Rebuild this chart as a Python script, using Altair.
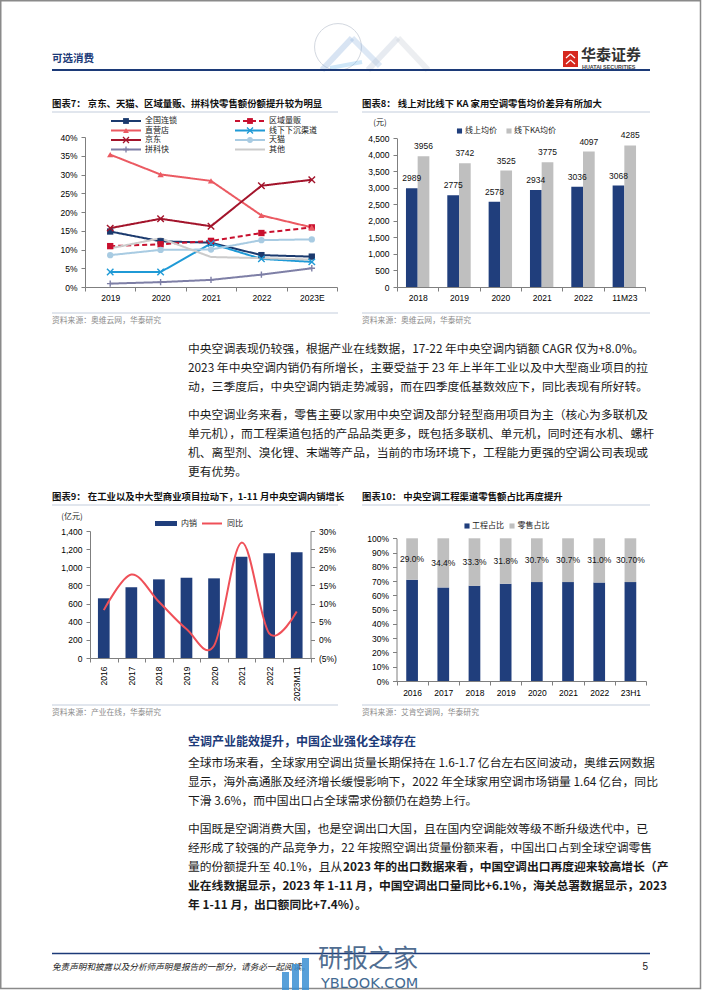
import altair as alt
import pandas as pd

W, H = 702, 991
FONT_CN = "Noto Sans CJK SC"
FONT_NUM = "Liberation Sans"
NAVY = "#1C3A78"
BAR_NAVY = "#203E7C"
BAR_GRAY = "#BFBFBF"
AX = "#7F7F7F"
RULE_LIGHT = "#C3CDDC"
SRC_GRAY = "#8C8C8C"
TEXT = "#1A1A1A"
RED_LINE = "#EF5058"

# ---------------- data ----------------
# chart 7
years7 = ["2019", "2020", "2021", "2022", "2023E"]
names7 = ["全国连锁", "区域量贩", "直营店", "线下下沉渠道", "京东", "天猫", "拼科快", "其他"]
quanguo7 = [14.8, 12.2, 11.8, 8.5, 8.1]
quyu7 = [10.9, 11.4, 12.3, 14.4, 15.9]
zhiying7 = [35.3, 30.0, 28.3, 19.1, 15.9]
xiachen7 = [4.0, 4.0, 11.6, 7.5, 6.7]
jd7 = [15.7, 18.2, 16.2, 27.0, 28.6]
tmall7 = [8.5, 9.9, 10.0, 12.5, 12.7]
pdd7 = [0.9, 1.3, 1.9, 3.3, 5.0]
other7 = [10.3, 13.0, 8.0, 7.7, 7.3]
series7 = [quanguo7, quyu7, zhiying7, xiachen7, jd7, tmall7, pdd7, other7]
colors7 = ["#1B3A6E", "#C8102E", "#EB5A62", "#1F9AD6", "#A3142B", "#A8CBE2", "#7E7FA6", "#CBCBCB"]
dashes7 = [[1, 0], [5, 3], [1, 0], [1, 0], [1, 0], [1, 0], [1, 0], [1, 0]]
ticks7 = [0, 0.05, 0.10, 0.15, 0.20, 0.25, 0.30, 0.35, 0.40]
XPATH = "M-1,-1L1,1M-1,1L1,-1"
PLUS = "M-1,0L1,0M0,-1L0,1"
filled7 = ["全国连锁", "区域量贩", "直营店", "天猫"]
filled_shapes7 = ["square", "square", "triangle-up", "circle"]
stroked7 = ["线下下沉渠道", "京东", "拼科快"]
stroked_shapes7 = [XPATH, XPATH, PLUS]

# chart 8
cats8 = ["2018", "2019", "2020", "2021", "2022", "11M23"]
online8 = [2989, 2775, 2578, 2934, 3036, 3068]
offline8 = [3956, 3742, 3525, 3775, 4097, 4285]
ticks8 = [0, 500, 1000, 1500, 2000, 2500, 3000, 3500, 4000, 4500]

# chart 9
cats9 = ["2016", "2017", "2018", "2019", "2020", "2021", "2022", "2023M11"]
sales9 = [658, 779, 867, 885, 878, 1116, 1154, 1165]
yoy9 = [8.2, 18.0, 10.5, 3.0, -1.6, 26.8, 1.8, 7.8]
ticks9 = [0, 200, 400, 600, 800, 1000, 1200, 1400]
ticks9r = [-0.05, 0, 0.05, 0.10, 0.15, 0.20, 0.25, 0.30]

# chart 10
cats10 = ["2016", "2017", "2018", "2019", "2020", "2021", "2022", "23H1"]
retail10 = [29.0, 34.4, 33.3, 31.8, 30.7, 30.7, 31.0, 30.7]
labels10 = ["29.0%", "34.4%", "33.3%", "31.8%", "30.7%", "30.7%", "31.0%", "30.70%"]
ticks10 = [0, 0.1, 0.2, 0.3, 0.4, 0.5, 0.6, 0.7, 0.8, 0.9, 1.0]

# text
para1 = [
    "中央空调表现仍较强，根据产业在线数据，17-22 年中央空调内销额 CAGR 仅为+8.0%。",
    "2023 年中央空调内销仍有所增长，主要受益于 23 年上半年工业以及中大型商业项目的拉",
    "动，三季度后，中央空调内销走势减弱，而在四季度低基数效应下，同比表现有所好转。",
]
para2 = [
    "中央空调业务来看，零售主要以家用中央空调及部分轻型商用项目为主（核心为多联机及",
    "单元机），而工程渠道包括的产品品类更多，既包括多联机、单元机，同时还有水机、螺杆",
    "机、离型剂、溴化锂、末端等产品，当前的市场环境下，工程能力更强的空调公司表现或",
    "更有优势。",
]
heading3 = "空调产业能效提升，中国企业强化全球存在"
para3 = [
    "全球市场来看，全球家用空调出货量长期保持在 1.6-1.7 亿台左右区间波动，奥维云网数据",
    "显示，海外高通胀及经济增长缓慢影响下，2022 年全球家用空调市场销量 1.64 亿台，同比",
    "下滑 3.6%，而中国出口占全球需求份额仍在趋势上行。",
]
para4 = [
    "中国既是空调消费大国，也是空调出口大国，且在国内空调能效等级不断升级迭代中，已",
    "经形成了较强的产品竞争力，22 年按照空调出货量份额来看，中国出口占到全球空调零售",
    "量的份额提升至 40.1%，且从",
]
para4_bold_a = "2023 年的出口数据来看，中国空调出口再度迎来较高增长（产"
para4_bold = [
    "业在线数据显示，2023 年 1-11 月，中国空调出口量同比+6.1%，海关总署数据显示，2023",
    "年 1-11 月，出口额同比+7.4%）。",
]

ONE = pd.DataFrame({"a": [0]})
layers = []


# ---------------- helpers ----------------
def text_at(t, x, y, size=9.0, color=TEXT, weight="normal", align="left", font=FONT_CN,
            style="normal", opacity=1.0):
    return alt.Chart(pd.DataFrame({"t": [t]})).mark_text(
        align=align, baseline="middle", fontSize=size, color=color, fontWeight=weight,
        font=font, fontStyle=style, opacity=opacity
    ).encode(x=alt.value(x), y=alt.value(y), text="t:N")


def rule(x1, y1, x2, y2, color, width=1.0, opacity=1.0):
    return alt.Chart(ONE).mark_rule(color=color, strokeWidth=width, opacity=opacity).encode(
        x=alt.value(x1), y=alt.value(y1), x2=alt.value(x2), y2=alt.value(y2))


def box(x1, y1, x2, y2, color, opacity=1.0):
    return alt.Chart(ONE).mark_rect(color=color, opacity=opacity).encode(
        x=alt.value(x1), y=alt.value(y1), x2=alt.value(x2), y2=alt.value(y2))


def square(x, y, color, size=26):
    return alt.Chart(ONE).mark_point(shape="square", filled=True, size=size, color=color,
                                     opacity=1).encode(x=alt.value(x), y=alt.value(y))


def para(lines, x, y0, size=11.8, weight="normal", color=TEXT, step=19):
    df = pd.DataFrame({"t": lines, "k": list(range(len(lines)))})
    return alt.Chart(df).mark_text(
        align="left", baseline="middle", fontSize=size, fontWeight=weight, color=color, font=FONT_CN
    ).encode(
        x=alt.value(x),
        y=alt.Y("k:Q", scale=alt.Scale(domain=[0, 1], range=[y0, y0 + step], nice=False, zero=False),
                axis=None),
        text="t:N")


def band(domain, rng):
    return alt.Scale(type="band", domain=domain, range=rng, paddingInner=0, paddingOuter=0)


def lin(domain, rng):
    return alt.Scale(type="linear", domain=domain, range=rng, nice=False, zero=False)


def ax(orient, pos, **kw):
    off = {"left": -pos, "right": pos - W, "bottom": pos - H}[orient]
    base = dict(orient=orient, offset=off, title=None, grid=False, domainColor=AX, domainWidth=1,
                tickColor=AX, tickWidth=1, tickSize=4, labelFont=FONT_NUM, labelFontSize=8.5,
                labelColor="#000000", labelPadding=4, labelOverlap=False)
    if orient == "bottom":
        base["labelAngle"] = 0
    base.update(kw)
    return alt.Axis(**base)


def chart_title(t, x, y, x2):
    return [text_at(t, x, y, size=9.4, weight="bold", color="#111111"),
            rule(x, y + 8, x2, y + 8, RULE_LIGHT, 1.0)]


def source(t, x, y, x2):
    return [rule(x, y - 8, x2, y - 8, RULE_LIGHT, 1.0),
            text_at(t, x, y, size=7.8, color=SRC_GRAY)]


# ---------------- page frame & header ----------------
layers.append(alt.Chart(ONE).mark_rect(filled=False, stroke="#8A8A8A", strokeWidth=1.5).encode(
    x=alt.value(0.75), y=alt.value(0.75), x2=alt.value(700.5), y2=alt.value(988.5)))

# faint decoration (globe + lattice)
layers.append(alt.Chart(ONE).mark_point(shape="circle", filled=False, size=2200, color="#D3D8E0",
                                        strokeWidth=1, opacity=1).encode(x=alt.value(338), y=alt.value(47)))
layers.append(rule(322, 70, 352, 38, "#8FB3DE", 6, 0.35))
layers.append(rule(352, 38, 380, 66, "#8FB3DE", 6, 0.30))
layers.append(rule(368, 70, 398, 38, "#B9C6D8", 6, 0.35))
layers.append(rule(398, 38, 428, 70, "#C9CED6", 6, 0.35))
layers.append(rule(330, 68, 362, 62, "#5FB0E8", 4, 0.30))

layers.append(text_at("可选消费", 52, 59, size=10.5, weight="bold", color=NAVY))
layers.append(rule(52, 70, 650, 70, NAVY, 2.2))
layers.append(box(563, 51, 578, 67, "#D6281E"))
layers.append(rule(566, 58, 570.5, 54, "#FFFFFF", 1.2))
layers.append(rule(570.5, 54, 575, 58, "#FFFFFF", 1.2))
layers.append(rule(566, 64, 570.5, 60, "#FFFFFF", 1.2))
layers.append(rule(570.5, 60, 575, 64, "#FFFFFF", 1.2))
layers.append(text_at("华泰证券", 581, 55, size=15, weight="bold", color="#333333"))
layers.append(text_at("HUATAI SECURITIES", 582, 66.5, size=5.4, weight="bold", color="#444444",
                      font=FONT_NUM))

# ---------------- chart 7 ----------------
layers += chart_title("图表7：  京东、天猫、区域量贩、拼科快零售额份额提升较为明显", 52, 104, 338)

df7 = pd.DataFrame([{"year": y, "s": n, "v": v / 100}
                    for n, vals in zip(names7, series7) for y, v in zip(years7, vals)])


def X7(axis=None):
    return alt.X("year:N", scale=band(years7, [85, 337]), axis=axis, bandPosition=0.5)


def Y7(axis=None):
    return alt.Y("v:Q", scale=lin([0, 0.4], [287, 137]), axis=axis)


col7 = alt.Color("s:N", scale=alt.Scale(domain=names7, range=colors7), legend=None)
dash7 = alt.StrokeDash("s:N", scale=alt.Scale(domain=names7, range=dashes7), legend=None)
shape_f7 = alt.Shape("s:N", scale=alt.Scale(domain=filled7, range=filled_shapes7), legend=None)
shape_s7 = alt.Shape("s:N", scale=alt.Scale(domain=stroked7, range=stroked_shapes7), legend=None)

layers.append(alt.Chart(df7).mark_line(strokeWidth=2).encode(
    x=X7(ax("bottom", 287, tickBand="extent", labelPadding=2)),
    y=Y7(ax("left", 85, values=ticks7, format=".0%")),
    color=col7, strokeDash=dash7))
layers.append(alt.Chart(df7).transform_filter(
    alt.FieldOneOfPredicate(field="s", oneOf=filled7)
).mark_point(filled=True, size=40, opacity=1).encode(x=X7(), y=Y7(), color=col7, shape=shape_f7))
layers.append(alt.Chart(df7).transform_filter(
    alt.FieldOneOfPredicate(field="s", oneOf=stroked7)
).mark_point(filled=False, size=42, strokeWidth=1.4, opacity=1).encode(
    x=X7(), y=Y7(), color=col7, shape=shape_s7))

# legend 7 (two columns)
leg7 = pd.DataFrame({"s": names7, "i": list(range(len(names7)))})
leg7b = alt.Chart(leg7).transform_calculate(
    lx="datum.i % 2 == 0 ? 111 : 235",
    ly="121 + floor(datum.i / 2) * 9.5",
).transform_calculate(lx2="datum.lx + 30", lm="datum.lx + 15", lt="datum.lx + 34")
layers.append(leg7b.mark_rule(strokeWidth=2).encode(
    x=alt.X("lx:Q", scale=None), x2=alt.X2("lx2"), y=alt.Y("ly:Q", scale=None),
    color=col7, strokeDash=dash7))
layers.append(leg7b.transform_filter(alt.FieldOneOfPredicate(field="s", oneOf=filled7)).mark_point(
    filled=True, size=34, opacity=1).encode(
    x=alt.X("lm:Q", scale=None), y=alt.Y("ly:Q", scale=None), color=col7, shape=shape_f7))
layers.append(leg7b.transform_filter(alt.FieldOneOfPredicate(field="s", oneOf=stroked7)).mark_point(
    filled=False, size=36, strokeWidth=1.3, opacity=1).encode(
    x=alt.X("lm:Q", scale=None), y=alt.Y("ly:Q", scale=None), color=col7, shape=shape_s7))
layers.append(leg7b.mark_text(align="left", baseline="middle", fontSize=8, font=FONT_CN,
                              color="#222222").encode(
    x=alt.X("lt:Q", scale=None), y=alt.Y("ly:Q", scale=None), text="s:N"))

layers += source("资料来源：奥维云网，华泰研究", 52, 321, 338)

# ---------------- chart 8 ----------------
layers += chart_title("图表8：  线上对比线下 KA 家用空调零售均价差异有所加大", 362, 104, 650)
layers.append(text_at("(元)", 380, 123, size=8, align="center"))
layers.append(square(459.5, 131, BAR_NAVY))
layers.append(text_at("线上均价", 465, 131, size=8))
layers.append(square(509, 131, BAR_GRAY))
layers.append(text_at("线下KA均价", 514, 131, size=8))

df8 = pd.DataFrame({"c": cats8, "on": online8, "off": offline8})


def X8(axis=None, bp=False):
    if bp:
        return alt.X("c:N", scale=band(cats8, [397, 645]), axis=axis, bandPosition=0.5)
    return alt.X("c:N", scale=band(cats8, [397, 645]), axis=axis)


def Y8(f, axis=None):
    return alt.Y(f"{f}:Q", scale=lin([0, 4500], [287, 138.3]), axis=axis)


layers.append(alt.Chart(df8).mark_bar(width=11.7, xOffset=-5.85, color=BAR_NAVY).encode(
    x=X8(ax("bottom", 287, tickBand="extent", labelPadding=2)),
    y=Y8("on", ax("left", 397, values=ticks8, format=",d"))))
layers.append(alt.Chart(df8).mark_bar(width=11.7, xOffset=5.85, color=BAR_GRAY).encode(
    x=X8(), y=Y8("off")))
layers.append(alt.Chart(df8).mark_text(dy=-10, xOffset=-5.85, fontSize=8.5, font=FONT_NUM,
                                       color="#111111", baseline="middle").encode(
    x=X8(bp=True), y=Y8("on"), text=alt.Text("on:Q", format="d")))
layers.append(alt.Chart(df8).mark_text(dy=-10, xOffset=5.85, fontSize=8.5, font=FONT_NUM,
                                       color="#111111", baseline="middle").encode(
    x=X8(bp=True), y=Y8("off"), text=alt.Text("off:Q", format="d")))

layers += source("资料来源：奥维云网，华泰研究", 362, 321, 650)

# ---------------- body text 1 ----------------
layers.append(para(para1, 188, 349))
layers.append(para(para2, 188, 415))

# ---------------- chart 9 ----------------
layers += chart_title("图表9：  在工业以及中大型商业项目拉动下，1-11 月中央空调内销增长", 52, 497, 338)
layers.append(text_at("(亿元)", 72, 517, size=8, align="center"))
layers.append(box(155, 521, 177, 526, BAR_NAVY))
layers.append(text_at("内销", 181, 523.5, size=8))
layers.append(rule(202, 523.5, 222, 523.5, RED_LINE, 2))
layers.append(text_at("同比", 227, 523.5, size=8))

df9 = pd.DataFrame({"c": cats9, "sales": sales9, "yoy": [v / 100 for v in yoy9]})


def X9(axis=None, bp=False):
    if bp:
        return alt.X("c:N", scale=band(cats9, [90, 310.5]), axis=axis, bandPosition=0.5)
    return alt.X("c:N", scale=band(cats9, [90, 310.5]), axis=axis)


layers.append(alt.Chart(df9).mark_bar(width=11.7, color=BAR_NAVY).encode(
    x=X9(ax("bottom", 658, tickBand="extent", labelAngle=270, labelPadding=4)),
    y=alt.Y("sales:Q", scale=lin([0, 1400], [658, 531]),
            axis=ax("left", 90, values=ticks9, format=",d"))))
layers.append(alt.Chart(df9).mark_line(interpolate="cardinal", color=RED_LINE, strokeWidth=2).encode(
    x=X9(bp=True),
    y=alt.Y("yoy:Q", scale=lin([-0.05, 0.30], [658, 531]),
            axis=ax("right", 310.5, values=ticks9r,
                    labelExpr="datum.value < 0 ? '(' + format(-datum.value, '.0%') + ')' : format(datum.value, '.0%')"))))

layers += source("资料来源：产业在线，华泰研究", 52, 713, 338)

# ---------------- chart 10 ----------------
layers += chart_title("图表10：  中央空调工程渠道零售额占比再度提升", 362, 497, 650)
layers.append(square(467, 526, BAR_NAVY))
layers.append(text_at("工程占比", 472, 526, size=8))
layers.append(square(512, 526, BAR_GRAY))
layers.append(text_at("零售占比", 517.5, 526, size=8))

df10 = pd.DataFrame({"c": cats10, "r": retail10, "lab": labels10})
base10 = alt.Chart(df10).transform_calculate(
    eng="1 - datum.r / 100", one="1", mid="(2 - datum.r / 100) / 2")


def X10(axis=None, bp=False):
    if bp:
        return alt.X("c:N", scale=band(cats10, [396.5, 646]), axis=axis, bandPosition=0.5)
    return alt.X("c:N", scale=band(cats10, [396.5, 646]), axis=axis)


def Y10(f, axis=None):
    return alt.Y(f"{f}:Q", scale=lin([0, 1], [681, 538.3]), axis=axis)


layers.append(base10.mark_bar(width=11.7, color=BAR_NAVY).encode(
    x=X10(ax("bottom", 681, tickBand="extent", labelPadding=3)),
    y=Y10("eng", ax("left", 396.5, values=ticks10, format=".0%"))))
layers.append(base10.mark_bar(width=11.7, color=BAR_GRAY).encode(
    x=X10(), y=Y10("eng"), y2=alt.Y2("one")))
layers.append(base10.mark_text(fontSize=8.5, font=FONT_NUM, color="#111111", baseline="middle").encode(
    x=X10(bp=True), y=Y10("mid"), text="lab:N"))

layers += source("资料来源：艾肯空调网，华泰研究", 362, 713, 650)

# ---------------- body text 2 ----------------
layers.append(text_at(heading3, 188, 742, size=12, weight="bold", color=NAVY))
layers.append(para(para3, 188, 763))
layers.append(para(para4, 188, 829))
layers.append(text_at(para4_bold_a, 343, 867, size=11.8, weight="bold", color=TEXT))
layers.append(para(para4_bold, 188, 886, weight="bold"))

# ---------------- footer ----------------
layers.append(rule(52, 953.5, 650, 953.5, NAVY, 1.5))
layers.append(text_at("免责声明和披露以及分析师声明是报告的一部分，请务必一起阅读。", 52, 967, size=8.6,
                      style="italic", color="#222222"))
layers.append(text_at("5", 648, 967, size=10, align="right", font=FONT_NUM, color="#222222"))

# watermark
layers.append(box(282, 972, 289, 990, "#3B8FD2", 0.85))
layers.append(box(292, 964, 299, 990, "#3B8FD2", 0.85))
layers.append(box(302, 958, 309, 990, "#3B8FD2", 0.85))
layers.append(text_at("研报之家", 318, 959, size=25, color="#3E5E86", opacity=0.9))
layers.append(text_at("YBLOOK.COM", 321, 984, size=14.5, color="#2E5A88", font="DejaVu Sans",
                      opacity=0.9))

chart = alt.layer(*layers).resolve_scale(
    x="independent", y="independent", color="independent", shape="independent",
    strokeDash="independent"
).properties(
    width=W, height=H, autosize=alt.AutoSizeParams(type="none"), padding=0, background="white"
).configure_view(stroke=None)

chart.save("out.html", embed_options={"renderer": "svg", "actions": False})
